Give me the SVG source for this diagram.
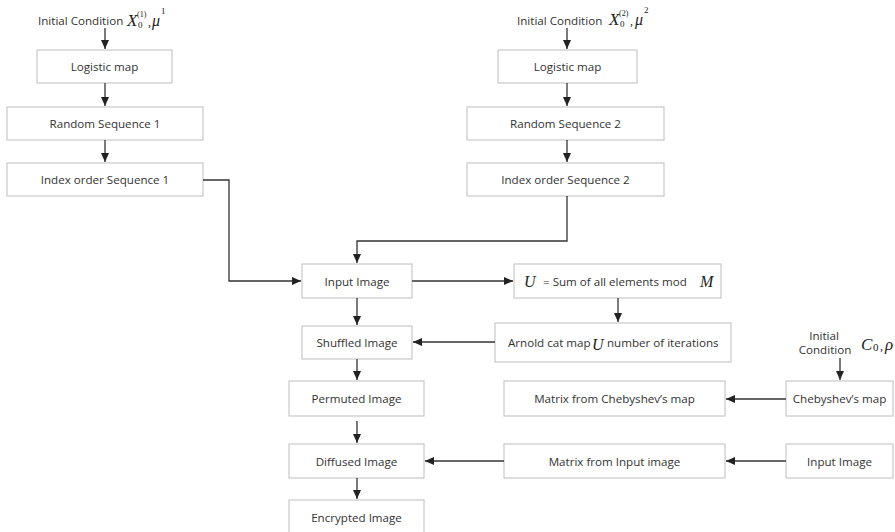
<svg xmlns="http://www.w3.org/2000/svg" width="895" height="532" viewBox="0 0 895 532">
<style>
.box{fill:#fff;stroke:#c9c9c9;stroke-width:1.2}
.t{font-family:"Open Sans","Noto Sans",sans-serif;font-size:11.6px;fill:#333;text-anchor:middle}
.tl{font-family:"Open Sans","Noto Sans",sans-serif;font-size:11.6px;fill:#333}
.m{font-family:"Liberation Serif","DejaVu Serif",serif;font-style:italic;fill:#222}
.n{font-family:"Liberation Serif","DejaVu Serif",serif;fill:#222}
.c{fill:none;stroke:#333;stroke-width:1.3}
</style>
<defs>
<marker id="ah" markerWidth="10" markerHeight="10" refX="9" refY="5" orient="auto" markerUnits="userSpaceOnUse">
<path d="M0,1 L9,5 L0,9 Z" fill="#222"/>
</marker>
</defs>
<rect width="895" height="532" fill="#fff"/>
<g id="ic1">
<text class="tl" x="38" y="25">Initial Condition</text>
<text class="m" x="127" y="26" font-size="17">X</text><text class="n" x="138" y="28" font-size="9">0</text><text class="n" x="137" y="17" font-size="8">(1)</text><text class="n" x="148" y="26" font-size="12">,</text><text class="m" x="152" y="26" font-size="16">μ</text><text class="n" x="161" y="14" font-size="9">1</text>
</g>
<g id="lm1"><rect class="box" x="37" y="50" width="135" height="33"/><text class="t" x="104.5" y="70.5">Logistic map</text></g>
<g id="rs1"><rect class="box" x="7" y="107" width="196" height="33"/><text class="t" x="105" y="127.5">Random Sequence 1</text></g>
<g id="io1"><rect class="box" x="7" y="163" width="196" height="33"/><text class="t" x="105" y="183.5">Index order Sequence 1</text></g>
<g id="ic2">
<text class="tl" x="517" y="25">Initial Condition</text>
<text class="m" x="609" y="25" font-size="17">X</text><text class="n" x="620" y="27" font-size="9">0</text><text class="n" x="619" y="16" font-size="8">(2)</text><text class="n" x="630" y="25" font-size="12">,</text><text class="m" x="635" y="25" font-size="16">μ</text><text class="n" x="644" y="13" font-size="9">2</text>
</g>
<g id="lm2"><rect class="box" x="498" y="50" width="139" height="33"/><text class="t" x="567.5" y="70.5">Logistic map</text></g>
<g id="rs2"><rect class="box" x="467" y="107" width="197" height="33"/><text class="t" x="565.5" y="127.5">Random Sequence 2</text></g>
<g id="io2"><rect class="box" x="467" y="163" width="197" height="33"/><text class="t" x="565.5" y="183.5">Index order Sequence 2</text></g>
<g id="in1"><rect class="box" x="302" y="264" width="110" height="34"/><text class="t" x="357" y="285.5">Input Image</text></g>
<g id="usum"><rect class="box" x="514" y="264" width="207" height="34"/>
<text class="m" x="524" y="287" font-size="16">U</text><text class="tl" x="543" y="285.5">= Sum of all elements mod</text><text class="m" x="700" y="287" font-size="16">M</text></g>
<g id="arnold"><rect class="box" x="495" y="323" width="236" height="39"/>
<text class="tl" x="508" y="346.5">Arnold cat map</text><text class="m" x="592" y="350" font-size="16">U</text><text class="tl" x="607" y="346.5">number of iterations</text></g>
<g id="shuf"><rect class="box" x="302" y="326" width="110" height="33"/><text class="t" x="357" y="346.5">Shuffled Image</text></g>
<g id="perm"><rect class="box" x="289" y="381" width="135" height="35"/><text class="t" x="356.5" y="402.5">Permuted Image</text></g>
<g id="mcheb"><rect class="box" x="504" y="381" width="221" height="35"/><text class="t" x="614.5" y="402.5">Matrix from Chebyshev’s map</text></g>
<g id="ic3">
<text class="t" x="824" y="340">Initial</text><text class="t" x="825" y="354">Condition</text>
<text class="m" x="861" y="350" font-size="17">C</text><text class="n" x="873" y="351" font-size="11">0</text><text class="n" x="880" y="350" font-size="12">,</text><text class="m" x="885" y="350" font-size="17">ρ</text>
</g>
<g id="cheb"><rect class="box" x="786" y="381" width="107" height="35"/><text class="t" x="839.5" y="402.5">Chebyshev’s map</text></g>
<g id="diff"><rect class="box" x="289" y="444" width="135" height="34"/><text class="t" x="356.5" y="465.5">Diffused Image</text></g>
<g id="minput"><rect class="box" x="504" y="444" width="221" height="34"/><text class="t" x="614.5" y="465.5">Matrix from Input image</text></g>
<g id="in2"><rect class="box" x="786" y="444" width="107" height="34"/><text class="t" x="839.5" y="465.5">Input Image</text></g>
<g id="enc"><rect class="box" x="289" y="500" width="135" height="40"/><text class="t" x="356.5" y="521.5">Encrypted Image</text></g>
<g id="connectors">
<path class="c" d="M105,28 V49" marker-end="url(#ah)"/>
<path class="c" d="M105,83 V106" marker-end="url(#ah)"/>
<path class="c" d="M105,140 V162" marker-end="url(#ah)"/>
<path class="c" d="M567,28 V49" marker-end="url(#ah)"/>
<path class="c" d="M567,83 V106" marker-end="url(#ah)"/>
<path class="c" d="M567,140 V162" marker-end="url(#ah)"/>
<path class="c" d="M203,180 H229 V281 H301" marker-end="url(#ah)"/>
<path class="c" d="M567,196 V241 H357 V263" marker-end="url(#ah)"/>
<path class="c" d="M412,281 H513" marker-end="url(#ah)"/>
<path class="c" d="M618,298 V322" marker-end="url(#ah)"/>
<path class="c" d="M495,342 H413" marker-end="url(#ah)"/>
<path class="c" d="M357,298 V325" marker-end="url(#ah)"/>
<path class="c" d="M357,359 V380" marker-end="url(#ah)"/>
<path class="c" d="M357,421 V443" marker-end="url(#ah)"/>
<path class="c" d="M357,478 V499" marker-end="url(#ah)"/>
<path class="c" d="M504,461 H425" marker-end="url(#ah)"/>
<path class="c" d="M786,461 H726" marker-end="url(#ah)"/>
<path class="c" d="M786,399 H726" marker-end="url(#ah)"/>
<path class="c" d="M840,358 V380" marker-end="url(#ah)"/>
</g>
</svg>
